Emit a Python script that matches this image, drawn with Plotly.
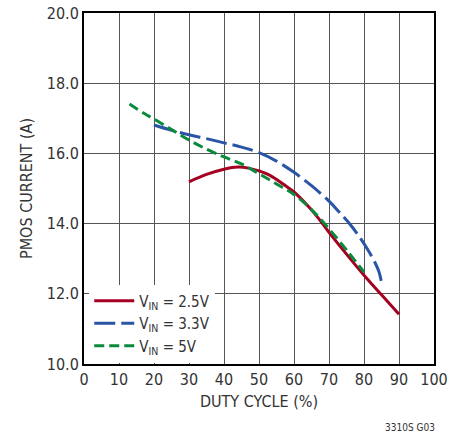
import plotly.graph_objects as go

# V_IN = 2.5V
duty_25 = [30, 35, 40, 44, 47, 50, 53, 57, 60, 64, 67, 70, 75, 80, 85, 90]
cur_25 = [15.19, 15.40, 15.55, 15.61, 15.58, 15.50, 15.38, 15.12, 14.90, 14.50, 14.15, 13.75, 13.13, 12.53, 11.97, 11.42]

# V_IN = 3.3V
duty_33 = [20, 25, 30, 35, 40, 45, 50, 55, 60, 65, 70, 73, 76, 79, 81, 83, 84.3, 85.2]
cur_33 = [16.81, 16.66, 16.53, 16.42, 16.30, 16.18, 16.02, 15.78, 15.46, 15.08, 14.64, 14.32, 13.98, 13.58, 13.27, 12.92, 12.62, 12.22]

# V_IN = 5V
duty_5 = [13, 17, 20, 25, 30, 35, 40, 45, 50, 55, 60, 65, 70, 75, 80]
cur_5 = [17.41, 17.15, 16.98, 16.68, 16.38, 16.12, 15.90, 15.70, 15.42, 15.13, 14.83, 14.40, 13.85, 13.25, 12.62]

x_ticks = [0, 10, 20, 30, 40, 50, 60, 70, 80, 90, 100]
y_ticks = [10.0, 12.0, 14.0, 16.0, 18.0, 20.0]

FONT = "DejaVu Sans Condensed, Liberation Sans, sans-serif"

fig = go.Figure()
fig.add_trace(go.Scatter(x=duty_25, y=cur_25, mode="lines", name="V<sub>IN</sub> = 2.5V",
                         line=dict(color="#a50021", width=3, shape="spline")))
fig.add_trace(go.Scatter(x=duty_33, y=cur_33, mode="lines", name="V<sub>IN</sub> = 3.3V",
                         line=dict(color="#2a55a5", width=3, dash="21px,6px", shape="spline")))
fig.add_trace(go.Scatter(x=duty_5, y=cur_5, mode="lines", name="V<sub>IN</sub> = 5V",
                         line=dict(color="#0a8a3c", width=3, dash="10px,5px", shape="spline")))

fig.update_layout(
    width=467, height=435,
    margin=dict(l=84, r=33, t=13, b=71, autoexpand=False),
    paper_bgcolor="white", plot_bgcolor="white",
    font=dict(family=FONT, size=16, color="#333"),
    showlegend=True,
    legend=dict(x=0.015, y=0.004, xanchor="left", yanchor="bottom", bgcolor="white",
                font=dict(size=15, color="#333"), tracegroupgap=0, itemwidth=40,
                borderwidth=0),
    xaxis=dict(range=[0, 100], tickvals=x_ticks, ticktext=[str(v) for v in x_ticks],
               showgrid=True, gridcolor="#555", gridwidth=1.2, zeroline=False,
               showline=True, linecolor="black", linewidth=2, mirror=True,
               automargin=False,
               ticks="", title=dict(text="DUTY CYCLE (%)", standoff=8,
                                    font=dict(size=16, color="#333"))),
    yaxis=dict(range=[10, 20], tickvals=y_ticks, ticktext=[f"{v:.1f}" for v in y_ticks],
               showgrid=True, gridcolor="#555", gridwidth=1.2, zeroline=False,
               showline=True, linecolor="black", linewidth=2, mirror=True,
               automargin=False,
               ticks="", title=dict(text="PMOS CURRENT (A)", standoff=10,
                                    font=dict(size=16, color="#333"))),
)

fig.add_annotation(text="3310S G03", xref="paper", yref="paper", x=1.009, y=-0.182,
                   xanchor="right", yanchor="middle", showarrow=False,
                   font=dict(size=10, color="#333"))

fig.write_html("out.html", config={"displayModeBar": False},
               post_script="document.body.style.margin='0';document.body.style.padding='0';")
